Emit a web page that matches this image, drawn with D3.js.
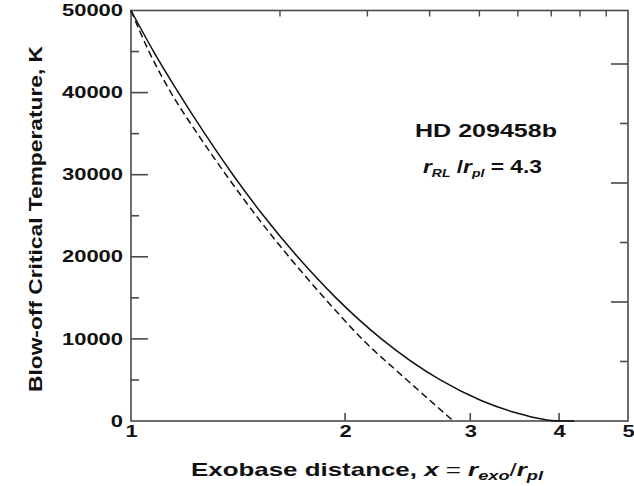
<!DOCTYPE html>
<meta charset="utf-8">
<head>
<style>
  * { margin: 0; padding: 0; }
  body { background: #fff; }
  svg { font-family: "Liberation Sans", Arial, sans-serif; }
  .tick text { font-size: 16px; font-weight: bold; fill: #111; }
</style>
</head>
<body>
<svg id="chart" width="634" height="486"></svg>
<script src="https://cdn.jsdelivr.net/npm/d3@7/dist/d3.min.js"></script>
<script>
// values
var xTickVals = [1, 2, 3, 4, 5];
var yTickVals = [0, 10000, 20000, 30000, 40000, 50000];
var yMinorVals = [5000, 15000, 25000, 35000, 45000];
var topTickVals = [1.62, 2.15, 2.63, 3.09, 3.5, 3.9, 4.28, 4.66];
var rightMajorVals = [1, 2, 3];
var rightMinorVals = [0.5, 1.5, 2.5];

// solid curve (x, T)
var solidX = [1.0, 1.076, 1.166, 1.27, 1.391, 1.536, 1.715, 1.942, 2.25, 2.722, 3.107, 3.479, 4.0, 4.2];
var solidT = [50000, 45000, 40000, 35000, 30000, 25000, 20000, 15000, 10000, 5000, 2500, 1000, 0, 0];
// dashed curve (x, T)
var dashX = [1.0, 1.06, 1.138, 1.24, 1.36, 1.5, 1.668, 1.87, 2.113, 2.444, 2.84];
var dashT = [50000, 45000, 40000, 35000, 30000, 25000, 20000, 15000, 10000, 5000, 0];

var svg = d3.select("#chart");
var margin = {left: 131, right: 6, top: 10.5, bottom: 65};
var W = 634, H = 486;

var x = d3.scaleLog().domain([1, 5]).range([margin.left, W - margin.right]);
var y = d3.scaleLinear().domain([0, 50000]).range([H - margin.bottom, margin.top]);
var yR = d3.scaleLinear().domain([0, 410.5 / 119]).range([H - margin.bottom, margin.top]);

var axisColor = "#4a4a4a";
var digitW = 12.2; // glyphs in the picture are stretched sideways

// frame
svg.append("rect")
  .attr("x", x(1)).attr("y", y(50000))
  .attr("width", x(5) - x(1)).attr("height", y(0) - y(50000))
  .attr("fill", "none").attr("stroke", axisColor).attr("stroke-width", 1.6);

// bottom axis labels
var gx = svg.append("g").attr("transform", "translate(0," + y(0) + ")")
  .call(d3.axisBottom(x).tickValues(xTickVals).tickFormat(d3.format("d")).tickSize(0).tickPadding(5));
gx.select(".domain").remove();
gx.selectAll(".tick text")
  .attr("textLength", function(d) { return String(d).length * digitW; })
  .attr("lengthAdjust", "spacingAndGlyphs");
// bottom ticks, inward
svg.selectAll(".bx").data([2, 3, 4]).enter().append("line")
  .attr("x1", function(d) { return x(d); }).attr("x2", function(d) { return x(d); })
  .attr("y1", y(0)).attr("y2", y(0) - 8)
  .attr("stroke", axisColor).attr("stroke-width", 1.6);

// top ticks
svg.selectAll(".tx").data(topTickVals).enter().append("line")
  .attr("x1", function(d) { return x(d); }).attr("x2", function(d) { return x(d); })
  .attr("y1", y(50000)).attr("y2", y(50000) + 6)
  .attr("stroke", axisColor).attr("stroke-width", 1.4);

// left axis labels
var gy = svg.append("g").attr("transform", "translate(" + x(1) + ",0)")
  .call(d3.axisLeft(y).tickValues(yTickVals).tickFormat(d3.format("d")).tickSize(0).tickPadding(8));
gy.select(".domain").remove();
gy.selectAll(".tick text")
  .attr("textLength", function(d) { return String(d).length * digitW; })
  .attr("lengthAdjust", "spacingAndGlyphs");
svg.selectAll(".ly").data(yTickVals.slice(1, 5)).enter().append("line")
  .attr("x1", x(1)).attr("x2", x(1) + 17)
  .attr("y1", function(d) { return y(d); }).attr("y2", function(d) { return y(d); })
  .attr("stroke", axisColor).attr("stroke-width", 1.6);
svg.selectAll(".lym").data(yMinorVals).enter().append("line")
  .attr("x1", x(1)).attr("x2", x(1) + 8)
  .attr("y1", function(d) { return y(d); }).attr("y2", function(d) { return y(d); })
  .attr("stroke", axisColor).attr("stroke-width", 1.6);

// right axis ticks
svg.selectAll(".ry").data(rightMajorVals).enter().append("line")
  .attr("x1", x(5)).attr("x2", x(5) - 17)
  .attr("y1", function(d) { return yR(d); }).attr("y2", function(d) { return yR(d); })
  .attr("stroke", axisColor).attr("stroke-width", 1.6);
svg.selectAll(".rym").data(rightMinorVals).enter().append("line")
  .attr("x1", x(5)).attr("x2", x(5) - 8)
  .attr("y1", function(d) { return yR(d); }).attr("y2", function(d) { return yR(d); })
  .attr("stroke", axisColor).attr("stroke-width", 1.6);

// curves
var line = d3.line()
  .x(function(d) { return x(d[0]); })
  .y(function(d) { return y(d[1]); })
  .curve(d3.curveMonotoneX);

svg.append("path")
  .datum(d3.zip(solidX, solidT))
  .attr("d", line)
  .attr("fill", "none").attr("stroke", "#111").attr("stroke-width", 1.5);

svg.append("path")
  .datum(d3.zip(dashX, dashT))
  .attr("d", line)
  .attr("fill", "none").attr("stroke", "#111").attr("stroke-width", 1.5)
  .attr("stroke-dasharray", "7,4");

// y label
svg.append("text")
  .attr("transform", "translate(42,219) rotate(-90)")
  .attr("text-anchor", "middle")
  .attr("font-size", 19).attr("font-weight", "bold").attr("fill", "#111")
  .attr("textLength", 346).attr("lengthAdjust", "spacingAndGlyphs")
  .text("Blow-off Critical Temperature, K");

// x label
var xl = svg.append("text")
  .attr("x", 191).attr("y", 476)
  .attr("font-size", 18.5).attr("font-weight", "bold").attr("fill", "#111")
  .attr("textLength", 352).attr("lengthAdjust", "spacingAndGlyphs");
xl.append("tspan").text("Exobase distance, ");
xl.append("tspan").attr("font-style", "italic").text("x");
xl.append("tspan").attr("font-weight", "normal").text(" = ");
xl.append("tspan").attr("font-style", "italic").text("r");
xl.append("tspan").attr("font-style", "italic").attr("font-size", 13).attr("dy", 4).text("exo");
xl.append("tspan").attr("dy", -4).attr("font-weight", "normal").text("/");
xl.append("tspan").attr("font-style", "italic").text("r");
xl.append("tspan").attr("font-style", "italic").attr("font-size", 13).attr("dy", 4).text("pl");

// annotation
svg.append("text")
  .attr("x", 415).attr("y", 137)
  .attr("font-size", 17.5).attr("font-weight", "bold").attr("fill", "#111")
  .attr("textLength", 142).attr("lengthAdjust", "spacingAndGlyphs")
  .text("HD 209458b");

var ann = svg.append("text")
  .attr("x", 423).attr("y", 173)
  .attr("font-size", 18).attr("font-weight", "bold").attr("fill", "#111")
  .attr("textLength", 119).attr("lengthAdjust", "spacingAndGlyphs");
ann.append("tspan").attr("font-style", "italic").text("r");
ann.append("tspan").attr("font-style", "italic").attr("font-size", 11).attr("dy", 4).text("RL");
ann.append("tspan").attr("dy", -4).text(" /");
ann.append("tspan").attr("font-style", "italic").text("r");
ann.append("tspan").attr("font-style", "italic").attr("font-size", 11).attr("dy", 4).text("pl");
ann.append("tspan").attr("dy", -4).text(" = 4.3");
</script>
</body>
